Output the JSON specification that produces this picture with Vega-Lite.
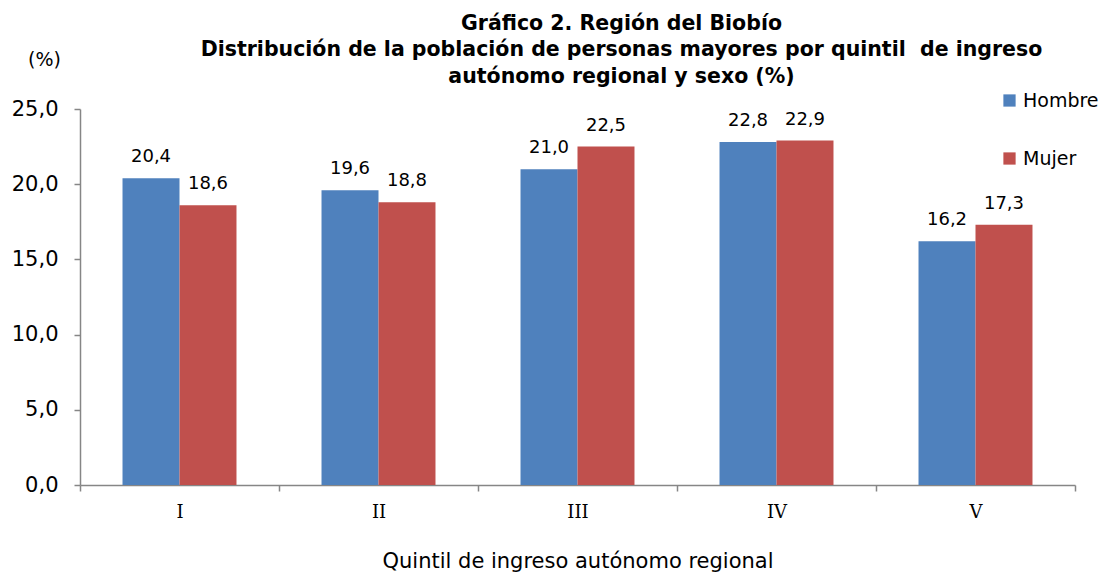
{
  "$schema": "https://vega.github.io/schema/vega-lite/v6.json",
  "autosize": "none",
  "width": 995,
  "height": 376,
  "padding": {"left": 80, "top": 109, "right": 29, "bottom": 89},
  "background": "white",
  "config": {
    "font": "DejaVu Sans",
    "view": {"stroke": null},
    "locale": {"number": {"decimal": ",", "thousands": ".", "grouping": [3], "currency": ["$", ""]}}
  },
  "title": {
    "text": ["Gráfico 2. Región del Biobío", "Distribución de la población de personas mayores por quintil\u00a0 de ingreso", "autónomo regional y sexo (%)"],
    "font": "DejaVu Sans",
    "fontSize": 20.5,
    "fontWeight": "bold",
    "color": "#000000",
    "lineHeight": 26.5,
    "anchor": "middle",
    "dx": 44,
    "offset": -37
  },
  "data": {
    "values": [
      {"quintil": "I", "sexo": "Hombre", "valor": 20.4},
      {"quintil": "I", "sexo": "Mujer", "valor": 18.6},
      {"quintil": "II", "sexo": "Hombre", "valor": 19.6},
      {"quintil": "II", "sexo": "Mujer", "valor": 18.8},
      {"quintil": "III", "sexo": "Hombre", "valor": 21.0},
      {"quintil": "III", "sexo": "Mujer", "valor": 22.5},
      {"quintil": "IV", "sexo": "Hombre", "valor": 22.8},
      {"quintil": "IV", "sexo": "Mujer", "valor": 22.9},
      {"quintil": "V", "sexo": "Hombre", "valor": 16.2},
      {"quintil": "V", "sexo": "Mujer", "valor": 17.3}
    ]
  },
  "encoding": {
    "x": {
      "field": "quintil",
      "type": "nominal",
      "sort": ["I", "II", "III", "IV", "V"],
      "scale": {"paddingInner": 0, "paddingOuter": 0},
      "axis": {
        "title": "Quintil de ingreso autónomo regional",
        "titleFont": "DejaVu Sans",
        "titleFontSize": 21,
        "titleFontWeight": "normal",
        "titleColor": "#000000",
        "titlePadding": 29,
        "labelAngle": 0,
        "labelFont": "DejaVu Serif",
        "labelFontSize": 18,
        "labelColor": "#000000",
        "labelPadding": 12,
        "tickBand": "extent",
        "tickSize": 6,
        "tickColor": "#868686",
        "domainColor": "#868686",
        "domainWidth": 1.5,
        "tickWidth": 1.5
      }
    },
    "xOffset": {"field": "sexo", "type": "nominal", "scale": {"paddingInner": 0, "paddingOuter": 0.746}},
    "y": {
      "field": "valor",
      "type": "quantitative",
      "scale": {"domain": [0, 25]},
      "axis": {
        "title": "(%)",
        "titleAngle": 0,
        "titleAlign": "center",
        "titleBaseline": "middle",
        "titleX": -36,
        "titleY": -50,
        "titleFont": "DejaVu Sans",
        "titleFontSize": 19,
        "titleFontWeight": "normal",
        "titleColor": "#000000",
        "values": [0, 5, 10, 15, 20, 25],
        "format": ".1f",
        "grid": false,
        "labelFontSize": 21,
        "labelColor": "#000000",
        "labelPadding": 16,
        "tickSize": 6,
        "tickColor": "#868686",
        "domainColor": "#868686",
        "domainWidth": 1.5,
        "tickWidth": 1.5
      }
    }
  },
  "layer": [
    {
      "mark": {"type": "bar"},
      "encoding": {
        "color": {
          "field": "sexo",
          "type": "nominal",
          "scale": {"domain": ["Hombre", "Mujer"], "range": ["#4F81BD", "#C0504D"]},
          "legend": {
            "title": null,
            "orient": "none",
            "legendX": 920,
            "legendY": -18,
            "symbolType": "square",
            "symbolSize": 150,
            "symbolStrokeWidth": 0,
            "labelFontSize": 19,
            "labelColor": "#000000",
            "labelOffset": 4,
            "rowPadding": 38
          }
        }
      }
    },
    {
      "mark": {"type": "text", "baseline": "middle", "dy": -21, "fontSize": 18, "color": "#000000"},
      "encoding": {
        "text": {"field": "valor", "type": "quantitative", "format": ".1f"}
      }
    }
  ]
}
